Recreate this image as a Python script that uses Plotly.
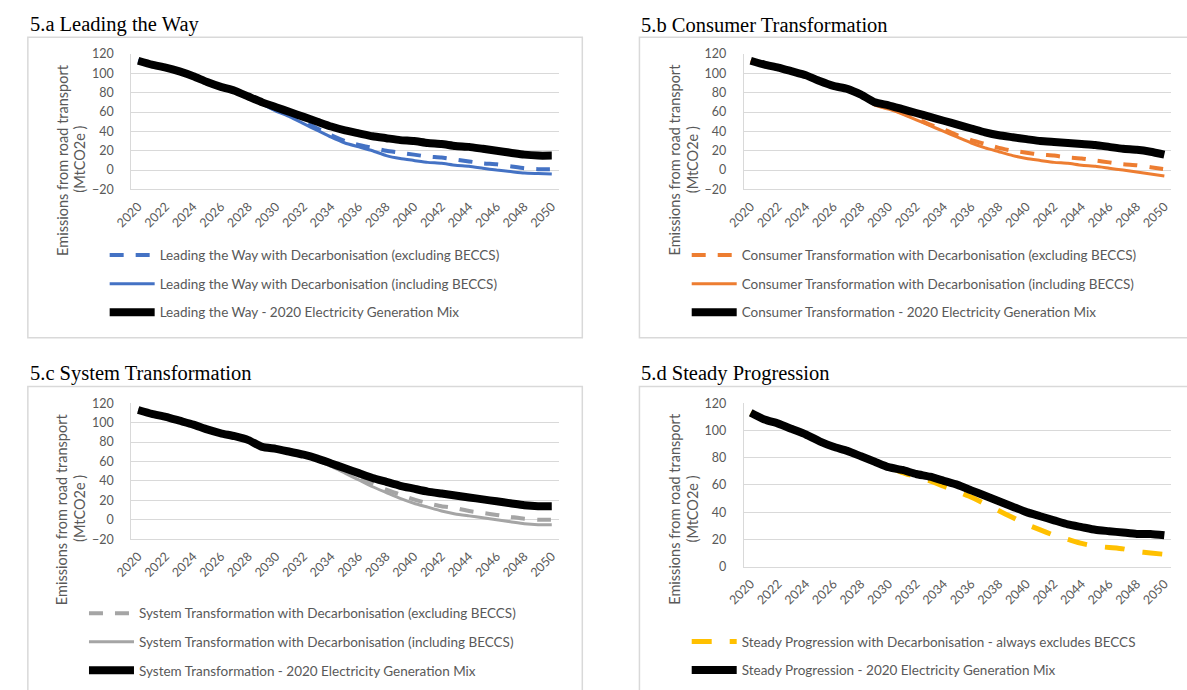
import plotly.graph_objects as go

W, H = 1187, 690

years = list(range(2020, 2051))

# 5.a Leading the Way
lw_excl = [113, 109, 106, 102, 97, 91, 86, 82, 76, 69, 62, 57, 50, 43, 36, 30,
           26, 23, 20, 18, 16, 14, 13, 11, 9, 7, 6, 4, 2, 1, 1]
lw_incl = [113, 109, 106, 102, 97, 91, 86, 82, 76, 68, 61, 55, 48, 41, 34, 28,
           24, 20, 15, 12, 10, 8, 7, 5, 4, 2, 0, -1.5, -3, -3.5, -4]
lw_mix = [113, 109, 106, 102, 97, 91, 86, 82, 76, 70, 65, 60, 55, 50, 45, 41,
          38, 35, 33, 31, 30, 28, 27, 25, 24, 22, 20, 18, 16, 15, 15]

# 5.b Consumer Transformation
ct_excl = [113, 109, 106, 102, 98, 92, 87, 84, 78, 68, 64, 59, 53, 47, 42, 36,
           31, 27, 23, 20, 18, 16, 15, 13, 12, 10, 8, 6, 5, 3, 1]
ct_incl = [113, 109, 106, 102, 98, 92, 87, 84, 78, 67, 63, 58, 52, 46, 40, 34,
           28, 23, 19, 15, 12, 10, 8, 7, 5, 4, 2, 0, -2, -4, -6]
ct_mix = [113, 109, 106, 102, 98, 92, 87, 84, 78, 70, 67, 63, 59, 55, 51, 47,
          43, 39, 36, 34, 32, 30, 29, 28, 27, 26, 24, 22, 21, 19, 16]

# 5.c System Transformation
st_excl = [113, 109, 106, 102, 98, 93, 89, 86, 82, 75, 73, 70, 67, 62, 56, 50,
           43, 37, 31, 26, 21, 17, 14, 12, 9, 7, 5, 3, 1, 0, 0]
st_incl = [113, 109, 106, 102, 98, 93, 89, 86, 82, 75, 73, 70, 67, 61, 55, 48,
           41, 34, 28, 22, 17, 13, 9, 6, 4, 2, 0, -2, -4, -5, -5]
st_mix = [113, 109, 106, 102, 98, 93, 89, 86, 82, 75, 73, 70, 67, 63, 58, 53,
          48, 43, 39, 35, 32, 29, 27, 25, 23, 21, 19, 17, 15, 14, 14]

# 5.d Steady Progression
sp_dec = [113, 108, 105, 101, 97, 92, 88, 85, 81, 77, 73, 69, 66, 63, 59, 55,
          51, 46, 41, 36, 31, 27, 23, 20, 17, 15, 14, 13, 11, 10, 9]
sp_mix = [113, 108, 105, 101, 97, 92, 88, 85, 81, 77, 73, 71, 68, 66, 63, 60,
          56, 52, 48, 44, 40, 37, 34, 31, 29, 27, 26, 25, 24, 24, 23]

x_ticks = years[::2]

BLUE, ORANGE, GREY, YELLOW, BLACK = "#4472C4", "#ED7D31", "#A5A5A5", "#FFC000", "#000000"
TXT = "#595959"
GRID = "#D9D9D9"
SANS = "Lato"

panels = [
    dict(key="", title="5.a Leading the Way", name="Leading the Way", color=BLUE,
         series=[lw_excl, lw_incl, lw_mix], yr=[-20, 120],
         xd=(115, 549), yd=(47, 185.5), box=(10, 30, 573, 337), leg=(88, 237)),
    dict(key="2", title="5.b Consumer Transformation", name="Consumer Transformation", color=ORANGE,
         series=[ct_excl, ct_incl, ct_mix], yr=[-20, 120],
         xd=(737, 1171), yd=(47, 185.5), box=(631, 30, 1200, 337), leg=(679, 237)),
    dict(key="3", title="5.c System Transformation", name="System Transformation", color=GREY,
         series=[st_excl, st_incl, st_mix], yr=[-20, 120],
         xd=(115, 549), yd=(404, 543), box=(10, 387, 573, 700), leg=(67, 603)),
    dict(key="4", title="5.d Steady Progression", name="Steady Progression", color=YELLOW,
         series=[sp_dec, sp_mix], yr=[0, 120],
         xd=(737, 1171), yd=(404, 571), box=(631, 387, 1200, 700), leg=(679, 632)),
]

fig = go.Figure()
annotations = []
shapes = []

for p in panels:
    k = p["key"]
    xa, ya = "x" + k, "y" + k
    legend_id = "legend" + k
    if len(p["series"]) == 3:
        names = [
            f"{p['name']} with Decarbonisation (excluding BECCS)",
            f"{p['name']} with Decarbonisation (including BECCS)",
            f"{p['name']} - 2020 Electricity Generation Mix",
        ]
        lines = [
            dict(color=p["color"], width=4, dash="14px,12px"),
            dict(color=p["color"], width=3),
            dict(color=BLACK, width=8),
        ]
    else:
        names = [
            f"{p['name']} with Decarbonisation - always excludes BECCS",
            f"{p['name']} - 2020 Electricity Generation Mix",
        ]
        lines = [
            dict(color=p["color"], width=5, dash="20px,18px"),
            dict(color=BLACK, width=8),
        ]
    for j, (vals, nm, ln) in enumerate(zip(p["series"], names, lines)):
        fig.add_trace(go.Scatter(
            x=years, y=vals, name=nm, mode="lines",
            line=dict(shape="spline", smoothing=0.5, **ln),
            xaxis=xa, yaxis=ya, legend=legend_id, legendgroup=f"{k}-{j}",
        ))

    x0, x1 = p["xd"]
    y0, y1 = p["yd"]
    fig.update_layout(**{
        "xaxis" + k: dict(
            domain=[x0 / W, x1 / W], anchor=ya, range=[2019.5, 2050.5],
            tickmode="array", tickvals=x_ticks, tickangle=-45,
            tickfont=dict(family=SANS, size=12.5, color=TXT),
            showgrid=False, showline=True, linecolor=GRID, linewidth=1,
            ticks="", ticklabelstandoff=4, zeroline=False,
        ),
        "yaxis" + k: dict(
            domain=[1 - y1 / H, 1 - y0 / H], anchor=xa, range=p["yr"],
            dtick=20, tick0=0, tickfont=dict(family=SANS, size=12.5, color=TXT),
            showgrid=True, gridcolor=GRID, gridwidth=1,
            showline=True, linecolor=GRID, linewidth=1,
            zeroline=False, ticks="", ticklabelstandoff=14,
        ),
        legend_id: dict(
            x=p["leg"][0] / W, y=1 - p["leg"][1] / H, xanchor="left", yanchor="top",
            bgcolor="rgba(0,0,0,0)", font=dict(family=SANS, size=13.5, color=TXT),
            tracegroupgap=8, traceorder="grouped", itemwidth=45,
        ),
    })

    bx0, by0, bx1, by1 = p["box"]
    shapes.append(dict(type="rect", xref="paper", yref="paper",
                       x0=bx0 / W, x1=bx1 / W, y0=1 - by1 / H, y1=1 - by0 / H,
                       line=dict(color=GRID, width=1.5), fillcolor="rgba(0,0,0,0)", layer="below"))

    annotations.append(dict(
        text=p["title"], xref="paper", yref="paper", x=bx0 / W, y=1 - (by0 - 13) / H,
        xanchor="left", yanchor="middle", showarrow=False,
        font=dict(family="Liberation Serif", size=20.5, color="black"),
    ))
    # two-line vertical axis title, one annotation per line
    for off, line_text in ((70, "Emissions from road transport"), (52, "(MtCO2e )")):
        annotations.append(dict(
            text=line_text, textangle=-90,
            xref="paper", yref="paper", x=(x0 - off) / W, y=1 - (by0 + 125) / H,
            xanchor="center", yanchor="middle", showarrow=False,
            font=dict(family=SANS, size=14.5, color=TXT),
        ))

fig.update_layout(
    width=W, height=H, margin=dict(l=0, r=0, t=0, b=0),
    paper_bgcolor="white", plot_bgcolor="white",
    showlegend=True, annotations=annotations, shapes=shapes,
)

fig.write_html("out.html")
